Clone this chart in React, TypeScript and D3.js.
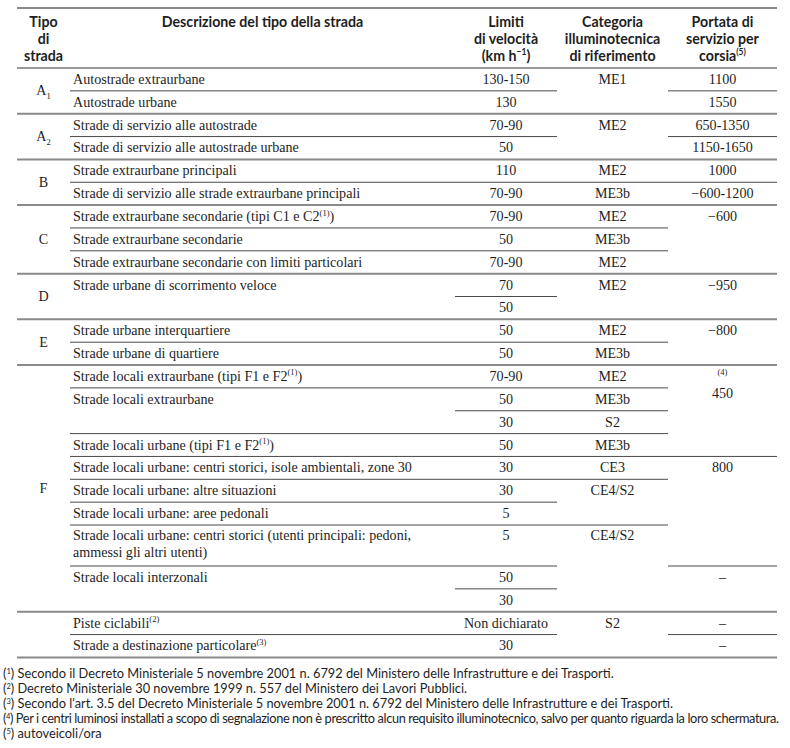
import React, { useLayoutEffect, useRef } from 'react';
import * as d3 from 'd3';

// ---------- DATA ----------
const tipi = ['A_{1}', 'A_{2}', 'B', 'C', 'D', 'E', 'F', ''];
const tipiSpan = [2, 2, 2, 3, 2, 2, 11, 2];

const descrizioni = [
  'Autostrade extraurbane',
  'Autostrade urbane',
  'Strade di servizio alle autostrade',
  'Strade di servizio alle autostrade urbane',
  'Strade extraurbane principali',
  'Strade di servizio alle strade extraurbane principali',
  'Strade extraurbane secondarie (tipi C1 e C2^{(1)})',
  'Strade extraurbane secondarie',
  'Strade extraurbane secondarie con limiti particolari',
  'Strade urbane di scorrimento veloce',
  'Strade urbane interquartiere',
  'Strade urbane di quartiere',
  'Strade locali extraurbane (tipi F1 e F2^{(1)})',
  'Strade locali extraurbane',
  'Strade locali urbane (tipi F1 e F2^{(1)})',
  'Strade locali urbane: centri storici, isole ambientali, zone 30',
  'Strade locali urbane: altre situazioni',
  'Strade locali urbane: aree pedonali',
  'Strade locali urbane: centri storici (utenti principali: pedoni,\nammessi gli altri utenti)',
  'Strade locali interzonali',
  'Piste ciclabili^{(2)}',
  'Strade a destinazione particolare^{(3)}',
];
const descrizioniSpan = [1, 1, 1, 1, 1, 1, 1, 1, 1, 2, 1, 1, 1, 2, 1, 1, 1, 1, 2, 2, 1, 1];

const limiti = ['130-150', '130', '70-90', '50', '110', '70-90', '70-90', '50', '70-90', '70', '50', '50', '50',
  '70-90', '50', '30', '50', '30', '30', '5', '5', '50', '30', 'Non dichiarato', '30'];
const limitiSpan = [1, 1, 1, 1, 1, 1, 1, 1, 1, 1, 1, 1, 1, 1, 1, 1, 1, 1, 1, 1, 2, 1, 1, 1, 1];

const categorie = ['ME1', 'ME2', 'ME2', 'ME3b', 'ME2', 'ME3b', 'ME2', 'ME2', 'ME2', 'ME3b',
  'ME2', 'ME3b', 'S2', 'ME3b', 'CE3', 'CE4/S2', 'CE4/S2', 'S2'];
const categorieSpan = [2, 2, 1, 1, 1, 1, 1, 2, 1, 1, 1, 1, 1, 1, 1, 2, 4, 2];

const portate = ['1100', '1550', '650-1350', '1150-1650', '1000', '\u2212600-1200', '\u2212600', '\u2212950', '\u2212800',
  '^{(4)}\n450', '800', '\u2013', '\u2013', '\u2013'];
const portateSpan = [1, 1, 1, 1, 1, 1, 3, 2, 2, 4, 5, 2, 1, 1];

const intestazioni = [
  ['Tipo', 'di', 'strada'],
  ['Descrizione del tipo della strada'],
  ['Limiti', 'di velocità', '(km h^{\u22121})'],
  ['Categoria', 'illuminotecnica', 'di riferimento'],
  ['Portata di', 'servizio per', 'corsia^{(5)}'],
];

const note = [
  '(^{1}) Secondo il Decreto Ministeriale 5 novembre 2001 n. 6792 del Ministero delle Infrastrutture e dei Trasporti.',
  '(^{2}) Decreto Ministeriale 30 novembre 1999 n. 557 del Ministero dei Lavori Pubblici.',
  "(^{3}) Secondo l'art. 3.5 del Decreto Ministeriale 5 novembre 2001 n. 6792 del Ministero delle Infrastrutture e dei Trasporti.",
  '(^{4}) Per i centri luminosi installati a scopo di segnalazione non è prescritto alcun requisito illuminotecnico, salvo per quanto riguarda la loro schermatura.',
  '(^{5}) autoveicoli/ora',
];

// ---------- LAYOUT ----------
const W = 790;
const H = 748;
const COLS = [17, 70, 455, 557, 668, 777];
const TOP_Y = 8;
const HEAD_Y = 68;
const ROW_H = 22.85;
const ROW_H_COMPACT = 20.5;
const LINE_H = 17;
const NOTE_X = 3;
const NOTE_MAX_W = 776;
const SERIF = "'Liberation Serif', 'Times New Roman', serif";
const SANS = "Lato, 'Open Sans', sans-serif";
const TEXT = '#1e1e1e';
const GROUP_LINE = '#8a8a8a';
const INNER_LINE = '#4a4a4a';

type Seg = { t: string; k: 'n' | 'sup' | 'sub' };
function parse(s: string): Seg[] {
  const parts = s.split(/(\^\{[^}]*\}|_\{[^}]*\})/).filter((p) => p.length > 0);
  return parts.map((p) => {
    if (p.startsWith('^{')) return { t: p.slice(2, -1), k: 'sup' as const };
    if (p.startsWith('_{')) return { t: p.slice(2, -1), k: 'sub' as const };
    return { t: p, k: 'n' as const };
  });
}

function RichText(props: {
  text: string; x: number; y: number; anchor: string; family: string; size: number;
  weight?: string | number; supSize?: number; supShift?: number; subShift?: number;
  textRef?: (el: SVGTextElement | null) => void;
}) {
  const { text, x, y, anchor, family, size, weight, supSize, supShift, subShift, textRef } = props;
  const segs = parse(text);
  const ss = supSize ?? size * 0.62;
  const sh = supShift ?? size * 0.4;
  const sb = subShift ?? 3;
  let cur = 0;
  return (
    <text ref={textRef} x={x} y={y} textAnchor={anchor} fontFamily={family} fontSize={size}
      fontWeight={weight ?? 'normal'} fill={TEXT}>
      {segs.map((sg, i) => {
        const target = sg.k === 'sup' ? -sh : sg.k === 'sub' ? sb : 0;
        const dy = target - cur;
        cur = target;
        return (
          <tspan key={i} dy={dy !== 0 ? dy : undefined} fontSize={sg.k === 'n' ? undefined : ss} style={{ whiteSpace: 'pre' }}>
            {sg.t}
          </tspan>
        );
      })}
    </text>
  );
}

function buildCells(values: string[], spans: number[]) {
  const ends = d3.cumsum(spans);
  return values.map((v, i) => ({ text: v, start: ends[i] - spans[i], end: ends[i] }));
}

export default function App() {
  const noteRefs = useRef<(SVGTextElement | null)[]>([]);

  useLayoutEffect(() => {
    noteRefs.current.forEach((el) => {
      if (!el) return;
      const w = el.getComputedTextLength();
      if (w > NOTE_MAX_W) {
        el.setAttribute('textLength', String(NOTE_MAX_W));
        el.setAttribute('lengthAdjust', 'spacing');
      }
    });
  }, []);

  const nRows = d3.sum(tipiSpan);
  const descCells = buildCells(descrizioni, descrizioniSpan);
  const heights = d3.range(nRows).map((r) => {
    const c = descCells.find((d) => r >= d.start && r < d.end);
    return c && c.text.includes('\n') ? ROW_H_COMPACT : ROW_H;
  });
  const tops = [HEAD_Y, ...Array.from(d3.cumsum(heights)).map((h) => HEAD_Y + h)];
  const rowY = (i: number) => tops[i];

  const groupCells = buildCells(tipi, tipiSpan);
  const groupEnds = new Set(groupCells.map((g) => g.end));

  const columns = [
    { cells: descCells, align: 'start' },
    { cells: buildCells(limiti, limitiSpan), align: 'middle' },
    { cells: buildCells(categorie, categorieSpan), align: 'middle' },
    { cells: buildCells(portate, portateSpan), align: 'middle' },
  ];

  const colX = (c: number, align: string) => (align === 'start' ? COLS[c] + 3 : (COLS[c] + COLS[c + 1]) / 2);

  const innerLines: { x1: number; x2: number; y: number }[] = [];
  columns.forEach((col, ci) => {
    col.cells.forEach((cell) => {
      if (!groupEnds.has(cell.end)) {
        innerLines.push({ x1: COLS[ci + 1], x2: COLS[ci + 2], y: rowY(cell.end) });
      }
    });
  });

  const footY = d3.scaleLinear().domain([0, note.length - 1]).range([678, 738]);

  return (
    <svg width={W} height={H} style={{ position: 'absolute', left: 0, top: 0, background: '#fff' }}>
      <rect width={W} height={H} fill="#fff" />
      {/* header */}
      {intestazioni.map((lines, ci) =>
        lines.map((ln, li) => (
          <RichText key={`h${ci}-${li}`} text={ln} x={(COLS[ci] + COLS[ci + 1]) / 2} y={26.5 + li * LINE_H}
            anchor="middle" family={SANS} size={14.2} weight={700} supSize={8.5} supShift={5.5} />
        ))
      )}
      <line x1={COLS[0]} x2={COLS[5]} y1={TOP_Y} y2={TOP_Y} stroke={GROUP_LINE} strokeWidth={2} />
      <line x1={COLS[0]} x2={COLS[5]} y1={HEAD_Y} y2={HEAD_Y} stroke="#333" strokeWidth={1.2} />

      {/* group labels */}
      {groupCells.map((g, i) => (
        <RichText key={`g${i}`} text={g.text} x={(COLS[0] + COLS[1]) / 2} y={(rowY(g.start) + rowY(g.end)) / 2 + 4.5}
          anchor="middle" family={SERIF} size={14.1} supSize={8.5} subShift={3.5} />
      ))}

      {/* body cells */}
      {columns.map((col, ci) =>
        col.cells.map((cell, k) =>
          cell.text.split('\n').map((ln, li) => (
            <RichText key={`c${ci}-${k}-${li}`} text={ln} x={colX(ci + 1, col.align)}
              y={rowY(cell.start) + heights[cell.start] / 2 + 4.5 + li * LINE_H}
              anchor={col.align} family={SERIF} size={14.1} supSize={8.5} supShift={5.5} />
          ))
        )
      )}

      {/* inner lines */}
      {innerLines.map((l, i) => (
        <line key={`il${i}`} x1={l.x1} x2={l.x2} y1={l.y} y2={l.y} stroke={INNER_LINE} strokeWidth={1} />
      ))}
      {/* group lines */}
      {groupCells.map((g, i) => (
        <line key={`gl${i}`} x1={COLS[0]} x2={COLS[5]} y1={rowY(g.end)} y2={rowY(g.end)} stroke={GROUP_LINE} strokeWidth={2} />
      ))}

      {/* footnotes */}
      {note.map((n, i) => (
        <RichText key={`n${i}`} text={n} x={NOTE_X} y={footY(i)} anchor="start" family={SANS} size={12.8}
          supSize={7.5} supShift={4.5} textRef={(el) => { noteRefs.current[i] = el; }} />
      ))}
    </svg>
  );
}
